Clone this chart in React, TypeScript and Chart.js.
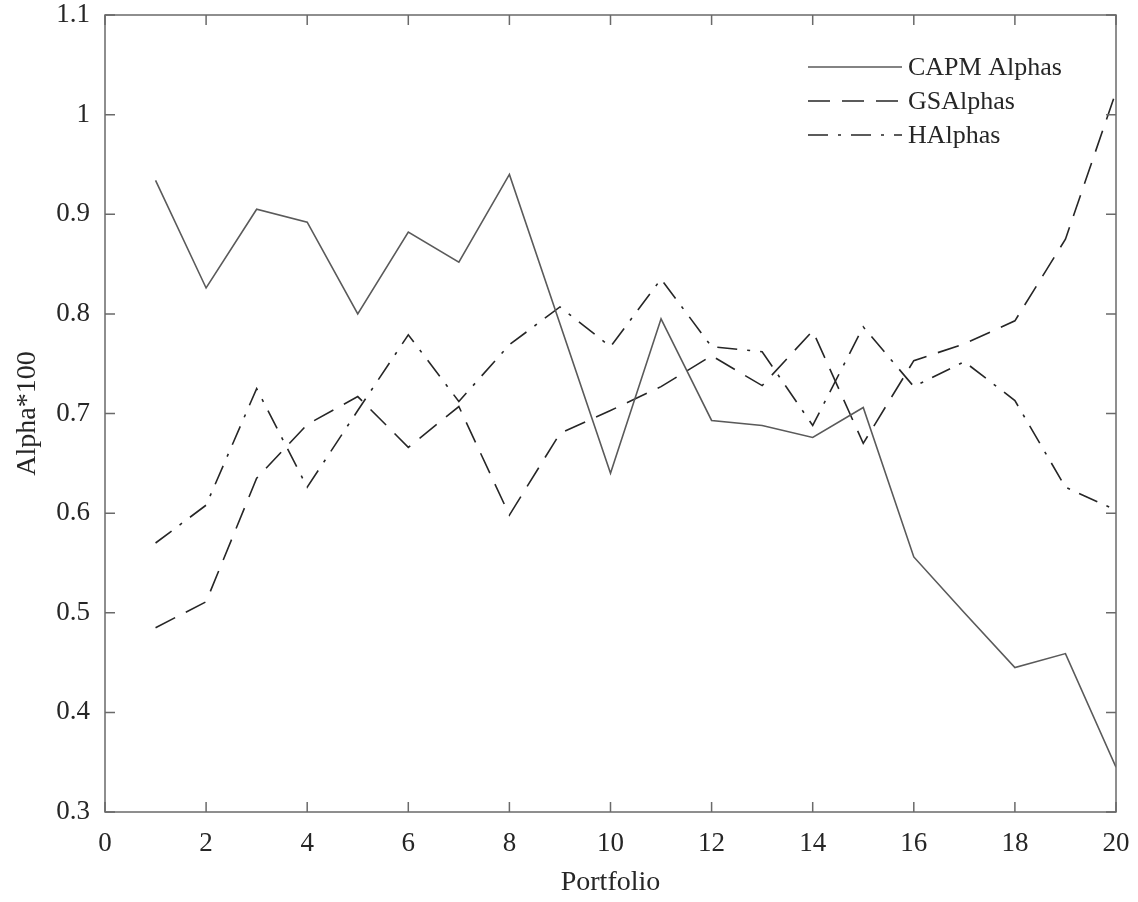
import { useEffect, useRef } from "react";
import { Chart, registerables } from "chart.js";

Chart.register(...registerables);

const portfolios = [1, 2, 3, 4, 5, 6, 7, 8, 9, 10, 11, 12, 13, 14, 15, 16, 17, 18, 19, 20];
const capmAlphas = [0.934, 0.826, 0.905, 0.892, 0.8, 0.882, 0.852, 0.94, 0.79, 0.64, 0.795, 0.693, 0.688, 0.676, 0.706, 0.556, 0.5, 0.445, 0.459, 0.345];
const gsAlphas = [0.485, 0.511, 0.635, 0.689, 0.717, 0.666, 0.707, 0.598, 0.68, 0.703, 0.727, 0.758, 0.728, 0.783, 0.67, 0.753, 0.77, 0.793, 0.875, 1.023];
const hAlphas = [0.57, 0.608, 0.725, 0.626, 0.703, 0.779, 0.712, 0.769, 0.807, 0.767, 0.835, 0.767, 0.762, 0.688, 0.787, 0.727, 0.752, 0.713, 0.626, 0.603];
const seriesNames = ["CAPM Alphas", "GSAlphas", "HAlphas"];
const xTicks = [0, 2, 4, 6, 8, 10, 12, 14, 16, 18, 20];
const yTicks = [0.3, 0.4, 0.5, 0.6, 0.7, 0.8, 0.9, 1.0, 1.1];
const xTitle = "Portfolio";
const yTitle = "Alpha*100";

const FONT = "'Liberation Serif', 'Times New Roman', serif";
const TEXT = "#262626";
const AXIS = "#6a6a6a";

const framePlugin = {
  id: "frameTicks",
  afterDraw(chart: any) {
    const { ctx, chartArea: a, scales } = chart;
    const x = scales.x;
    const y = scales.y;
    ctx.save();
    ctx.strokeStyle = AXIS;
    ctx.lineWidth = 1.5;
    ctx.setLineDash([]);
    ctx.strokeRect(a.left, a.top, a.right - a.left, a.bottom - a.top);
    const L = 10;
    ctx.beginPath();
    for (const v of xTicks) {
      const px = x.getPixelForValue(v);
      ctx.moveTo(px, a.bottom);
      ctx.lineTo(px, a.bottom - L);
      ctx.moveTo(px, a.top);
      ctx.lineTo(px, a.top + L);
    }
    for (const v of yTicks) {
      const py = y.getPixelForValue(v);
      ctx.moveTo(a.left, py);
      ctx.lineTo(a.left + L, py);
      ctx.moveTo(a.right, py);
      ctx.lineTo(a.right - L, py);
    }
    ctx.stroke();
    ctx.restore();
  },
};

const legendPlugin = {
  id: "insideLegend",
  afterDraw(chart: any) {
    const { ctx, chartArea: a } = chart;
    const x0 = a.right - 308;
    const x1 = a.right - 214;
    const textX = a.right - 208;
    const rowY = [a.top + 52, a.top + 86, a.top + 120];
    ctx.save();
    chart.data.datasets.forEach((ds: any, i: number) => {
      const yy = rowY[i];
      ctx.strokeStyle = ds.borderColor;
      ctx.lineWidth = ds.borderWidth;
      ctx.setLineDash(ds.borderDash || []);
      ctx.beginPath();
      ctx.moveTo(x0, yy);
      ctx.lineTo(x1, yy);
      ctx.stroke();
      ctx.setLineDash([]);
      ctx.fillStyle = TEXT;
      ctx.font = `26px ${FONT}`;
      ctx.textAlign = "left";
      ctx.textBaseline = "middle";
      ctx.fillText(ds.label, textX, yy + 1);
    });
    ctx.restore();
  },
};

export default function App() {
  const canvasRef = useRef<HTMLCanvasElement | null>(null);

  useEffect(() => {
    const canvas = canvasRef.current;
    if (!canvas) return;
    const mk = (vals: number[]) => portfolios.map((p, i) => ({ x: p, y: vals[i] }));
    const chart = new Chart(canvas, {
      type: "line",
      data: {
        datasets: [
          {
            label: seriesNames[0],
            data: mk(capmAlphas),
            borderColor: "#5a5a5a",
            borderWidth: 1.6,
            pointRadius: 0,
            tension: 0,
            fill: false,
          },
          {
            label: seriesNames[1],
            data: mk(gsAlphas),
            borderColor: "#262626",
            borderWidth: 1.6,
            borderDash: [22, 12],
            pointRadius: 0,
            tension: 0,
            fill: false,
          },
          {
            label: seriesNames[2],
            data: mk(hAlphas),
            borderColor: "#262626",
            borderWidth: 1.6,
            borderDash: [20, 10, 3, 10],
            pointRadius: 0,
            tension: 0,
            fill: false,
          },
        ],
      },
      options: {
        animation: false,
        responsive: false,
        layout: { padding: { left: 0, right: 22, top: 15, bottom: 0 } },
        plugins: {
          legend: { display: false },
          tooltip: { enabled: false },
        },
        scales: {
          x: {
            type: "linear",
            min: 0,
            max: 20,
            afterBuildTicks: (s: any) => {
              s.ticks = xTicks.map((v) => ({ value: v }));
            },
            afterFit: (s: any) => {
              s.height = 90;
              s.paddingLeft = 0;
              s.paddingRight = 0;
            },
            grid: { display: false, drawTicks: false },
            border: { display: false },
            ticks: {
              color: TEXT,
              font: { family: FONT, size: 27 },
              padding: 16,
              maxRotation: 0,
              autoSkip: false,
              callback: (v: any) => String(v),
            },
            title: {
              display: true,
              text: xTitle,
              color: TEXT,
              font: { family: FONT, size: 28 },
              padding: { top: 0, bottom: 3 },
            },
          },
          y: {
            type: "linear",
            min: 0.3,
            max: 1.1,
            afterBuildTicks: (s: any) => {
              s.ticks = yTicks.map((v) => ({ value: v }));
            },
            afterFit: (s: any) => {
              s.width = 105;
              s.paddingTop = 0;
              s.paddingBottom = 0;
            },
            grid: { display: false, drawTicks: false },
            border: { display: false },
            ticks: {
              color: TEXT,
              font: { family: FONT, size: 27 },
              padding: 15,
              autoSkip: false,
              callback: (v: any) => String(Number(Number(v).toFixed(1))),
            },
            title: {
              display: true,
              text: yTitle,
              color: TEXT,
              font: { family: FONT, size: 28 },
              padding: { top: 11, bottom: 0 },
            },
          },
        },
      },
      plugins: [framePlugin, legendPlugin],
    });
    return () => chart.destroy();
  }, []);

  return (
    <div style={{ position: "fixed", left: 0, top: 0, width: 1138, height: 902, background: "#fff" }}>
      <canvas ref={canvasRef} width={1138} height={902} style={{ width: 1138, height: 902, display: "block" }} />
    </div>
  );
}
